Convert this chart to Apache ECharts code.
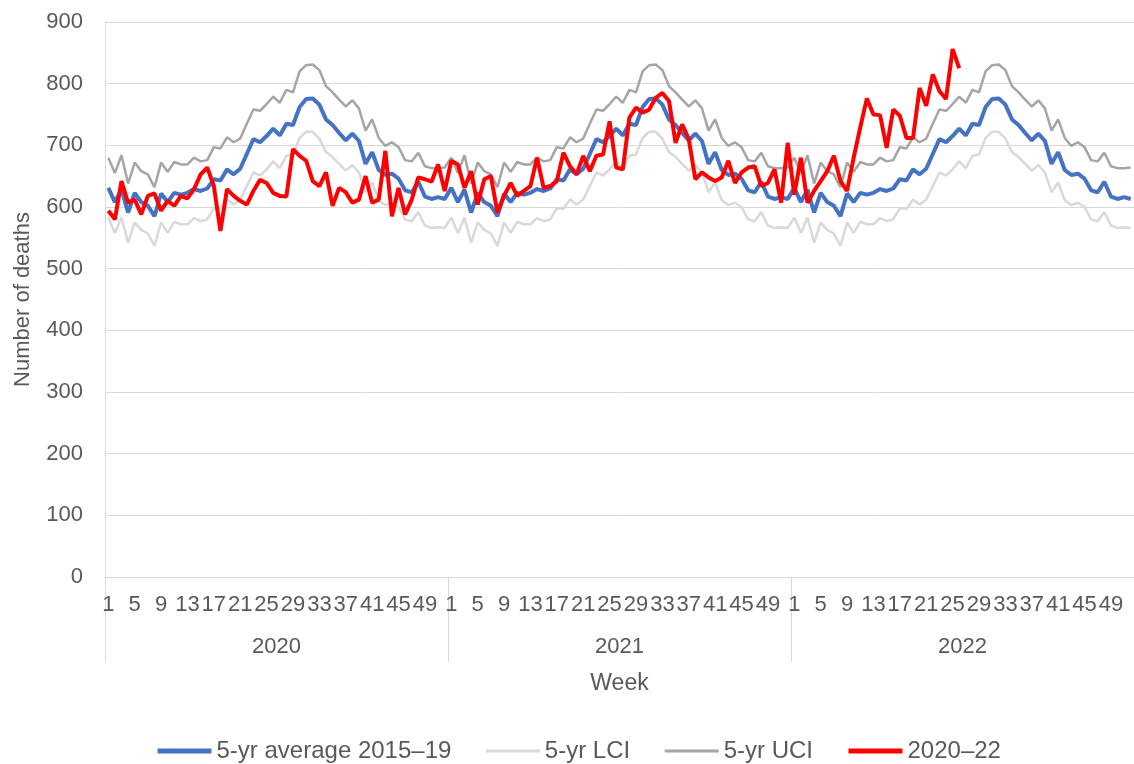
<!DOCTYPE html>
<html>
<head>
<meta charset="utf-8">
<script src="https://cdn.jsdelivr.net/npm/echarts@6/dist/echarts.min.js"></script>
<style>
  html, body { margin: 0; padding: 0; background: #fff; }
  #chart { width: 1134px; height: 764px; }
</style>
</head>
<body>
<div id="chart"></div>
<script>
// years shown on the second axis row
var years = ['2020', '2021', '2022'];

// 5-yr baseline (2015-19), one value per week 1..52, same for every year
var avgWeekly = [631, 608, 628, 591, 623, 608, 602, 585, 622, 608, 623, 620, 623, 629, 626, 630, 645, 643, 661, 653, 662, 686, 710, 705, 715, 727,
                 716, 735, 733, 762, 775, 776, 766, 742, 733, 720, 708, 719, 707, 670, 689, 660, 652, 654, 646, 627, 624, 641, 617, 613, 616, 613];
var lciWeekly = [583, 558, 583, 542, 575, 563, 557, 537, 575, 558, 576, 572, 572, 582, 577, 580, 598, 597, 612, 604, 612, 634, 656, 651, 661, 674,
                 663, 683, 685, 712, 722, 722, 711, 689, 681, 670, 659, 668, 656, 624, 640, 611, 603, 607, 600, 580, 577, 592, 570, 566, 567, 566];
var uciWeekly = [680, 655, 684, 638, 672, 658, 653, 632, 672, 657, 673, 669, 669, 680, 674, 676, 697, 695, 713, 705, 711, 735, 758, 756, 767, 779,
                 769, 790, 786, 820, 830, 831, 822, 796, 786, 774, 763, 773, 760, 724, 742, 712, 699, 705, 697, 676, 674, 688, 666, 663, 663, 664];

// weekly deaths
var deaths2020 = [594, 580, 642, 607, 612, 588, 618, 622, 594, 610, 602, 618, 614, 629, 653, 664, 634, 561, 629, 618, 610, 604, 626, 644, 639, 623,
                  618, 617, 694, 683, 675, 642, 634, 656, 602, 631, 624, 607, 612, 650, 607, 612, 691, 585, 631, 588, 612, 648, 645, 641, 669, 626];
var deaths2021 = [675, 669, 631, 658, 604, 645, 650, 591, 618, 639, 618, 626, 634, 680, 631, 634, 642, 688, 666, 653, 683, 658, 683, 685, 739, 664,
                  661, 745, 761, 753, 758, 777, 785, 772, 704, 734, 710, 645, 656, 648, 642, 648, 675, 639, 656, 664, 666, 634, 639, 661, 607, 704];
var deaths2022 = [620, 680, 607, 626, 642, 658, 683, 642, 626, 680, 729, 776, 750, 749, 696, 758, 748, 712, 712, 793, 764, 815, 788, 775, 856, 825];

var weeks = [];
var avg = [], lci = [], uci = [];
years.forEach(function () {
  for (var w = 1; w <= 52; w++) weeks.push(String(w));
  avg = avg.concat(avgWeekly);
  lci = lci.concat(lciWeekly);
  uci = uci.concat(uciWeekly);
});
var actual = deaths2020.concat(deaths2021, deaths2022);

var font = "'Liberation Sans', Arial, sans-serif";
var grey = '#595959';
var chart = echarts.init(document.getElementById('chart'));

chart.setOption({
  animation: false,
  textStyle: { fontFamily: font },
  grid: { left: 105, right: 0, top: 22, bottom: 187 },
  legend: {
    top: 734,
    left: 150,
    itemWidth: 54,
    itemHeight: 14,
    itemGap: 33,
    itemStyle: { opacity: 0 },
    textStyle: { fontSize: 24, color: grey, fontFamily: font },
    data: [
      { name: '5-yr average 2015–19', lineStyle: { width: 5 } },
      { name: '5-yr LCI', lineStyle: { width: 3 } },
      { name: '5-yr UCI', lineStyle: { width: 3 } },
      { name: '2020–22', lineStyle: { width: 5 } }
    ]
  },
  xAxis: [
    {
      type: 'category',
      data: weeks,
      name: 'Week',
      nameLocation: 'middle',
      nameGap: 95,
      nameTextStyle: { fontSize: 23, color: grey },
      axisLine: { lineStyle: { color: '#d9d9d9', width: 1 } },
      axisTick: { show: false },
      axisLabel: {
        interval: function (i) { return i % 4 === 0; },
        margin: 17,
        fontSize: 22,
        color: grey
      }
    },
    {
      type: 'category',
      data: years,
      position: 'bottom',
      axisLine: { show: false },
      axisTick: { show: true, length: 85, lineStyle: { color: '#d9d9d9', width: 1 } },
      axisLabel: { margin: 59, fontSize: 22, color: grey }
    }
  ],
  yAxis: {
    type: 'value',
    min: 0,
    max: 900,
    interval: 100,
    name: 'Number of deaths',
    nameLocation: 'middle',
    nameGap: 71,
    nameTextStyle: { fontSize: 22, color: grey },
    axisLine: { show: true, lineStyle: { color: '#d9d9d9', width: 1 } },
    axisLabel: { margin: 22, fontSize: 22, color: grey },
    splitLine: { lineStyle: { color: '#d9d9d9', width: 1 } }
  },
  series: [
    { name: '5-yr average 2015–19', type: 'line', data: avg, symbol: 'none',
      itemStyle: { color: '#4472c4' }, lineStyle: { color: '#4472c4', width: 4 } },
    { name: '5-yr LCI', type: 'line', data: lci, symbol: 'none',
      itemStyle: { color: '#d9d9d9' }, lineStyle: { color: '#d9d9d9', width: 2.5 } },
    { name: '5-yr UCI', type: 'line', data: uci, symbol: 'none',
      itemStyle: { color: '#a5a5a5' }, lineStyle: { color: '#a5a5a5', width: 2.5 } },
    { name: '2020–22', type: 'line', data: actual, symbol: 'none',
      itemStyle: { color: '#ff0000' }, lineStyle: { color: '#ff0000', width: 4 } }
  ]
});
</script>
</body>
</html>
